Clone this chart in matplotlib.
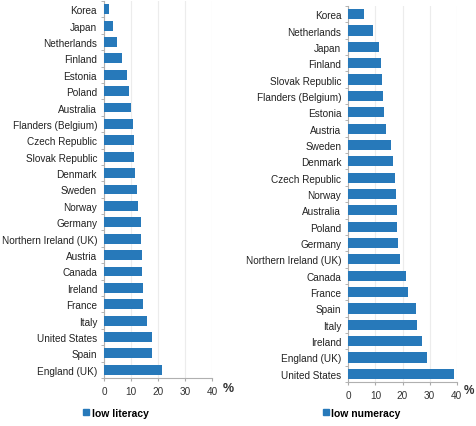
import matplotlib
matplotlib.use("Agg")
import matplotlib.pyplot as plt
import numpy as np
from matplotlib.patches import Patch

plt.rcParams['font.family'] = ['Liberation Sans', 'DejaVu Sans']

lit_countries = ["Korea", "Japan", "Netherlands", "Finland", "Estonia", "Poland",
                 "Australia", "Flanders (Belgium)", "Czech Republic", "Slovak Republic",
                 "Denmark", "Sweden", "Norway", "Germany", "Northern Ireland (UK)",
                 "Austria", "Canada", "Ireland", "France", "Italy", "United States",
                 "Spain", "England (UK)"]
lit_values = [1.7, 3.2, 4.7, 6.7, 8.5, 9.4, 10.1, 10.9, 11.0, 11.1, 11.4, 12.3,
              12.7, 13.6, 13.7, 14.1, 14.2, 14.3, 14.4, 15.8, 17.7, 17.8, 21.6]

num_countries = ["Korea", "Netherlands", "Japan", "Finland", "Slovak Republic",
                 "Flanders (Belgium)", "Estonia", "Austria", "Sweden", "Denmark",
                 "Czech Republic", "Norway", "Australia", "Poland", "Germany",
                 "Northern Ireland (UK)", "Canada", "France", "Spain", "Italy",
                 "Ireland", "England (UK)", "United States"]
num_values = [5.9, 9.0, 11.3, 12.2, 12.4, 12.7, 13.1, 13.9, 15.9, 16.6, 17.1, 17.7,
              18.0, 18.1, 18.2, 19.2, 21.3, 22.0, 25.0, 25.4, 27.3, 29.2, 39.0]

x_ticks = [0, 10, 20, 30, 40]
legend_labels = ["low literacy", "low numeracy"]

BAR = "#2779ba"
W, H = 477, 427
fig = plt.figure(figsize=(W / 100, H / 100), dpi=100)

def make_ax(rect, cats, vals, bh):
    ax = fig.add_axes(rect)
    n = len(cats)
    y = np.arange(n)
    ax.barh(y, vals, height=bh, color=BAR, zorder=3)
    ax.set_ylim(n - 0.5, -0.5)
    ax.set_xlim(0, 40)
    ax.set_xticks(x_ticks)
    ax.set_yticks(y)
    ax.set_yticklabels(cats)
    ax.set_yticks(np.arange(n + 1) - 0.5, minor=True)
    ax.tick_params(axis='y', which='major', length=0, pad=5, labelsize=7.2, labelcolor="#222222")
    ax.tick_params(axis='y', which='minor', length=2.5, color="#aaaaaa")
    ax.tick_params(axis='x', length=2.5, color="#aaaaaa", labelsize=7.2, labelcolor="#333333", pad=3)
    for s in ["top", "right"]:
        ax.spines[s].set_visible(False)
    for s in ["left", "bottom"]:
        ax.spines[s].set_color("#b0b0b0")
        ax.spines[s].set_linewidth(0.8)
    ax.grid(axis='x', color="#ececec", linewidth=0.8, zorder=0)
    ax.set_axisbelow(True)
    return ax

ax1 = make_ax([104 / W, 1 - 379 / H, 108 / W, 377 / H], lit_countries, lit_values, 0.6)
ax2 = make_ax([348.3 / W, 1 - 383 / H, 108.4 / W, 376 / H], num_countries, num_values, 0.62)

fig.text(228 / W, 1 - 389 / H, "%", fontsize=9, fontweight='bold', color="#333333",
         ha='center', va='center')
fig.text(469 / W, 1 - 391 / H, "%", fontsize=8.5, fontweight='bold', color="#333333",
         ha='center', va='center')

for lab, xc in [(legend_labels[0], 116 / W), (legend_labels[1], 362 / W)]:
    fig.legend(handles=[Patch(color=BAR, label=lab)], loc='center',
               bbox_to_anchor=(xc, 1 - 414 / H), frameon=False,
               handlelength=0.55, handleheight=0.55, handletextpad=0.25,
               prop={'size': 7.5, 'weight': 'bold'})

fig.savefig("out.png", dpi=100)
